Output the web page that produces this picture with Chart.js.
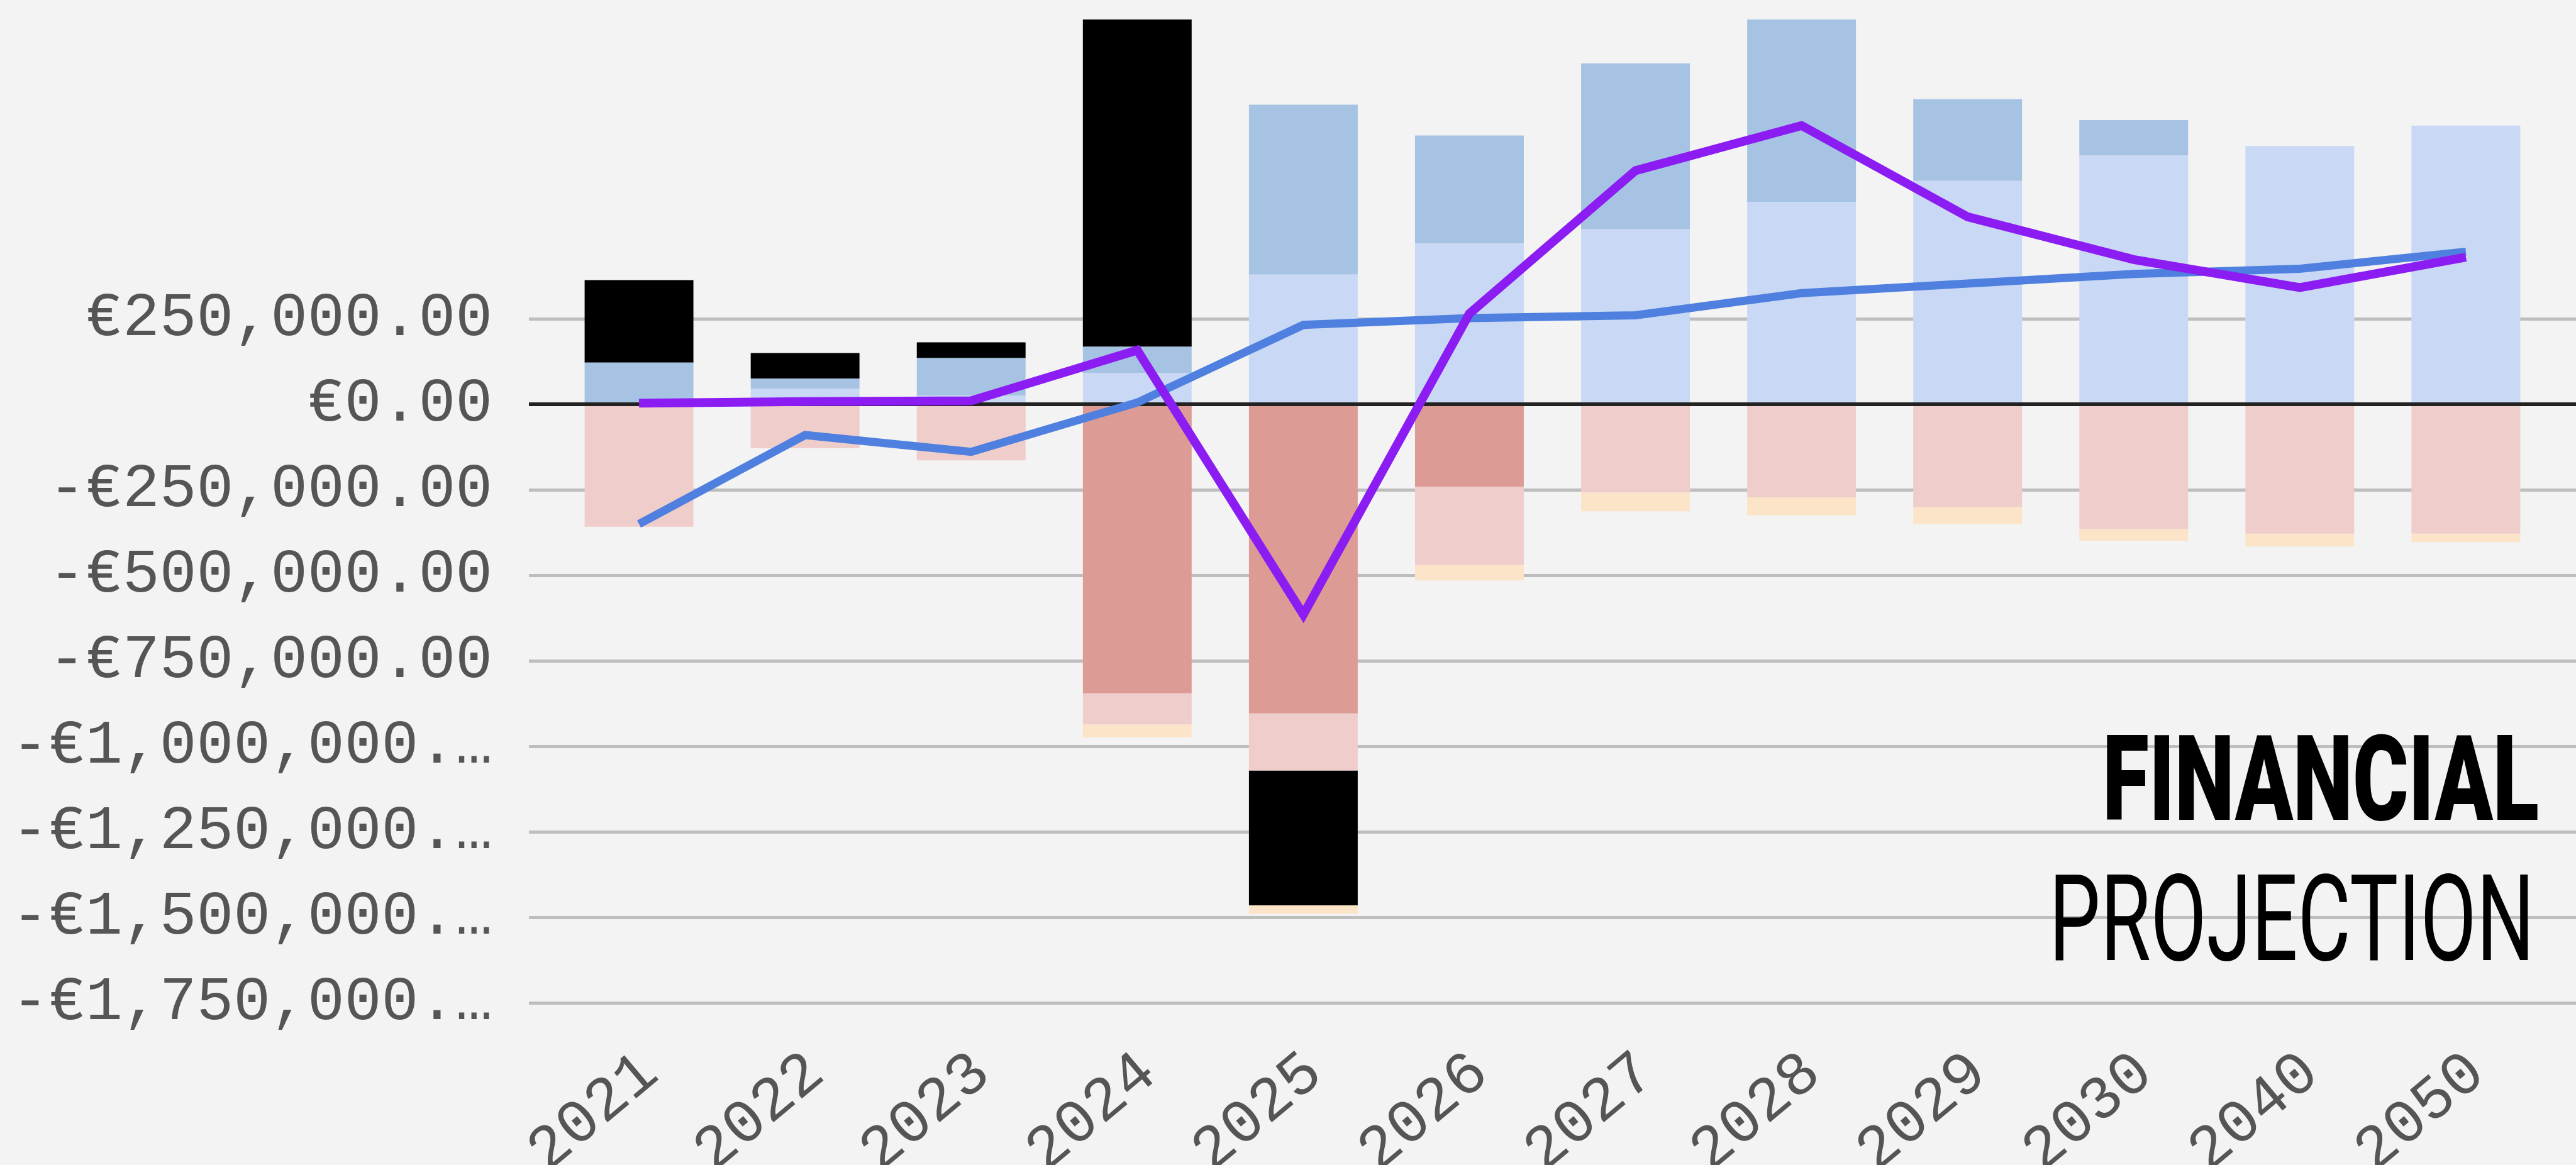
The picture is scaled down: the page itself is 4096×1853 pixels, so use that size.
<!DOCTYPE html>
<html lang="en">
<head>
    <meta charset="UTF-8">
    <title>Financial Projection</title>
    <script src="https://cdn.jsdelivr.net/npm/chart.js"></script>
    <style>
        html, body { margin: 0; padding: 0; background: #f3f3f3; overflow: hidden; }
        #wrap { position: relative; width: 4096px; height: 1853px; }
        #wrap canvas, #wrap svg { position: absolute; left: 0; top: 0; }
        #wrap svg { pointer-events: none; }
    </style>
</head>
<body>
<div id="wrap">
    <canvas id="finChart" width="4096" height="1853"></canvas>
    <svg width="4096" height="1853">
        <text x="4037" y="1304" text-anchor="end" textLength="694" lengthAdjust="spacingAndGlyphs"
              font-family="Roboto" font-weight="900" font-size="190" fill="#000">FINANCIAL</text>
        <text x="4030" y="1527" text-anchor="end" textLength="772" lengthAdjust="spacingAndGlyphs"
              font-family="Roboto" font-weight="400" font-size="192" fill="#000">PROJECTION</text>
    </svg>
</div>

<script>
    const years = ['2021', '2022', '2023', '2024', '2025', '2026', '2027', '2028', '2029', '2030', '2040', '2050'];

    // stacked bars, in stacking order from the zero line outwards
    const lightBlue = [0, 45000, 25000, 92000, 379000, 470000, 513000, 591000, 653000, 727000, 755000, 815000];
    const midBlue   = [122000, 30000, 110000, 76000, 497000, 316000, 484000, 600000, 239000, 104000, 0, 0];
    const salmon    = [0, 0, 0, -845000, -904000, -241000, 0, 0, 0, 0, 0, 0];
    const pink      = [-358000, -128000, -164000, -91000, -167000, -229000, -258000, -272000, -300000, -365000, -378000, -378000];
    const black     = [241000, 75000, 46000, 1050000, -394000, 0, 0, 0, 0, 0, 0, 0];
    const peach     = [0, 0, 0, -38000, -25000, -45000, -55000, -53000, -50000, -35000, -38000, -25000];

    // lines
    const purpleLine = [3000, 8000, 10000, 158000, -615000, 265000, 683000, 815000, 548000, 423000, 341000, 430000];
    const blueLine   = [-350000, -90000, -139000, 5000, 232000, 252000, 260000, 325000, 353000, 381000, 396000, 446000];

    const yTicks = [250000, 0, -250000, -500000, -750000, -1000000, -1250000, -1500000, -1750000];
    const yTickLabels = ['€250,000.00', '€0.00', '-€250,000.00', '-€500,000.00', '-€750,000.00',
        '-€1,000,000.…', '-€1,250,000.…', '-€1,500,000.…', '-€1,750,000.…'];

    const pts = arr => arr.map((y, x) => ({ x, y }));

    function barSet(data, color) {
        return {
            type: 'bar',
            data: pts(data),
            backgroundColor: color,
            borderWidth: 0,
            barPercentage: 0.655,
            categoryPercentage: 1
        };
    }

    const tickFont = { family: '"Liberation Mono", monospace', size: 98 };

    new Chart(document.getElementById('finChart'), {
        type: 'bar',
        data: {
            datasets: [
                { type: 'line', data: pts(purpleLine), borderColor: '#8b1cf2', borderWidth: 14, pointRadius: 0, tension: 0, stack: 'net' },
                { type: 'line', data: pts(blueLine), borderColor: '#4f80df', borderWidth: 13, pointRadius: 0, tension: 0, stack: 'cash' },
                barSet(lightBlue, '#c9d9f5'),
                barSet(midBlue, '#a6c3e3'),
                barSet(salmon, '#dd9b96'),
                barSet(pink, '#efcdcb'),
                barSet(black, '#000000'),
                barSet(peach, '#fce4c9')
            ]
        },
        options: {
            responsive: false,
            animation: false,
            layout: { padding: { top: 31, right: 0, left: 0, bottom: 0 } },
            plugins: { legend: { display: false }, tooltip: { enabled: false } },
            scales: {
                x: {
                    type: 'linear',
                    min: -0.663,
                    max: 11.663,
                    offset: false,
                    stacked: true,
                    grid: { display: false },
                    border: { display: false },
                    afterFit: axis => {
                        axis.height = 258;
                        axis.paddingLeft = 0;
                        axis.paddingRight = 0;
                    },
                    ticks: {
                        stepSize: 1,
                        includeBounds: false,
                        autoSkip: false,
                        maxTicksLimit: 20,
                        minRotation: 40,
                        maxRotation: 40,
                        padding: 46,
                        labelOffset: 18,
                        color: '#555',
                        font: tickFont,
                        callback: v => years[v]
                    }
                },
                y: {
                    min: -1750000,
                    max: 1125000,
                    stacked: true,
                    border: { display: false },
                    afterFit: axis => {
                        axis.width = 841;
                        axis.paddingTop = 0;
                        axis.paddingBottom = 0;
                    },
                    afterBuildTicks: axis => { axis.ticks = yTicks.map(v => ({ value: v })); },
                    grid: {
                        drawTicks: false,
                        color: c => c.tick && c.tick.value === 0 ? '#222' : '#bebebe',
                        lineWidth: c => c.tick && c.tick.value === 0 ? 6 : 5
                    },
                    ticks: {
                        padding: 58,
                        color: '#555',
                        font: tickFont,
                        callback: v => yTickLabels[yTicks.indexOf(v)]
                    }
                }
            }
        }
    });
</script>
</body>
</html>
